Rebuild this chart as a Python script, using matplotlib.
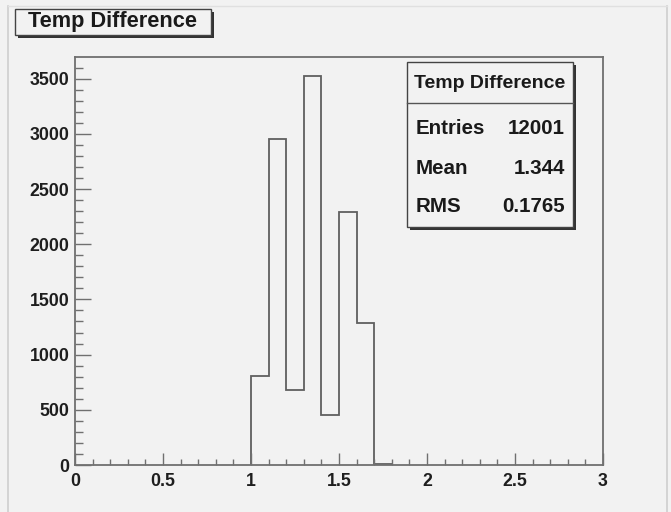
import numpy as np
import matplotlib.pyplot as plt
from matplotlib.patches import Rectangle
from matplotlib.lines import Line2D

plt.switch_backend('Agg')
plt.rcParams['font.family'] = ['Liberation Sans', 'DejaVu Sans']
plt.rcParams['font.weight'] = 'bold'

# histogram contents (bin width 0.1)
bin_lo = [1.0, 1.1, 1.2, 1.3, 1.4, 1.5, 1.6, 1.7]
counts = [805, 2950, 675, 3520, 455, 2295, 1290, 11]
bin_width = 0.1
hist_title = 'Temp Difference'
stat_names = ['Entries', 'Mean', 'RMS']
stat_values = ['12001', '1.344', '0.1765']

W, H = 671, 512
bg = '#f2f2f2'
lc = '#707070'

fig = plt.figure(figsize=(W / 100, H / 100), dpi=100, facecolor=bg)


def fx(px):
    return px / W


def fy(py):
    return 1 - py / H


ax = fig.add_axes([fx(75), fy(465), fx(603) - fx(75), fy(57) - fy(465)])
ax.set_facecolor(bg)

edges = bin_lo + [bin_lo[-1] + bin_width]
ax.stairs(counts, edges, baseline=0, fill=False, color='#5f5f5f', linewidth=1.3)

ax.set_xlim(0, 3)
ax.set_ylim(0, 1.05 * max(counts))
ax.set_xticks(np.arange(0, 3.01, 0.5))
ax.set_xticks(np.arange(0, 3.01, 0.1), minor=True)
ax.set_yticks(np.arange(0, 3501, 500))
ax.set_yticks(np.arange(0, 3601, 100), minor=True)
ax.set_xticklabels(['0', '0.5', '1', '1.5', '2', '2.5', '3'])

for s in ax.spines.values():
    s.set_color(lc)
    s.set_linewidth(1.3)

ax.tick_params(axis='x', which='major', direction='in', length=8.6, width=1, color=lc, pad=6)
ax.tick_params(axis='x', which='minor', direction='in', length=4.3, width=1, color=lc)
ax.tick_params(axis='y', which='major', direction='in', length=11.4, width=1, color=lc, pad=4)
ax.tick_params(axis='y', which='minor', direction='in', length=5.7, width=1, color=lc)
ax.tick_params(labelsize=12.8, labelcolor='#1e1e1e')
for lab in ax.get_xticklabels() + ax.get_yticklabels():
    lab.set_fontweight('bold')

# canvas border
fig.add_artist(Line2D([fx(8), fx(8)], [0, fy(6)], color='#cfcfcf', linewidth=1.2))
fig.add_artist(Line2D([fx(667), fx(667)], [0, fy(6)], color='#cfcfcf', linewidth=1.2))
fig.add_artist(Line2D([fx(8), fx(667)], [fy(6), fy(6)], color='#e0e0e0', linewidth=1.0))


def shadow_box(x0, y0, x1, y1, off=2.5):
    fig.add_artist(Rectangle((fx(x0 + off), fy(y1 + off)), fx(x1 - x0), fy(y0) - fy(y1),
                             facecolor='#333333', edgecolor='none'))
    fig.add_artist(Rectangle((fx(x0), fy(y1)), fx(x1 - x0), fy(y0) - fy(y1),
                             facecolor=bg, edgecolor='#444444', linewidth=1.0))


# title box
shadow_box(15, 9, 211, 35)
fig.text(fx(112), fy(22), hist_title, ha='center', va='center', fontsize=15.7,
         fontweight='bold', color='#1a1a1a')

# stats box
shadow_box(407, 62, 573, 227)
fig.add_artist(Line2D([fx(407), fx(573)], [fy(103), fy(103)], color='#555555', linewidth=1.0))
fig.text(fx(490), fy(83), hist_title, ha='center', va='center', fontsize=14,
         fontweight='bold', color='#1a1a1a')
rows_y = [128, 168, 207]
for name, val, yy in zip(stat_names, stat_values, rows_y):
    fig.text(fx(416), fy(yy), name, ha='left', va='center', fontsize=14.8,
             fontweight='bold', color='#1a1a1a')
    fig.text(fx(565), fy(yy), val, ha='right', va='center', fontsize=14.8,
             fontweight='bold', color='#1a1a1a')

fig.savefig('out.png', dpi=100, facecolor=bg)
